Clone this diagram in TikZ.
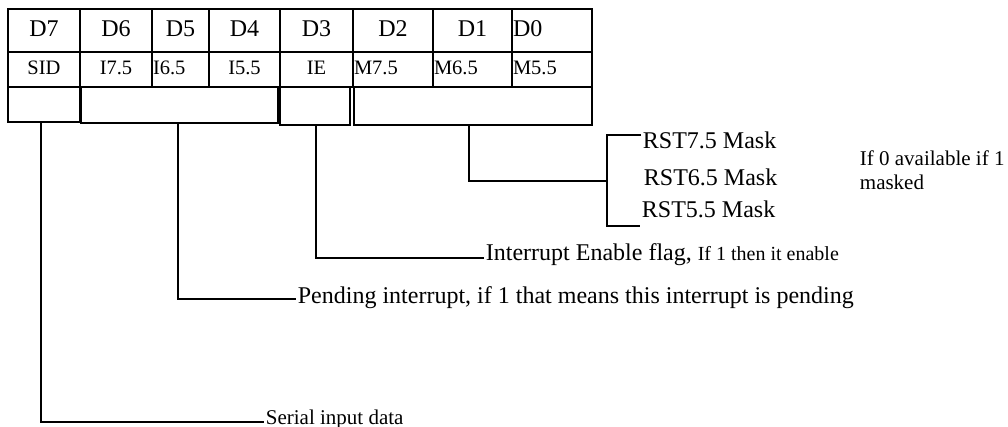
\documentclass[tikz,border=0pt]{standalone}
\usepackage{fontspec}
\setmainfont{Liberation Serif}
\usepackage{tikz}
\usetikzlibrary{positioning}

\newcommand{\txtsize}[1]{\fontsize{#1}{#1}\selectfont}

\begin{document}
\begin{tikzpicture}[
    x=1pt, y=-1pt,
    line width=1.8pt,
    toprow/.style={
        draw,
        inner sep=0pt,
        outer sep=0pt,
        minimum height=43pt,
        text depth=4pt,
        font=\txtsize{24}
    },
    midrow/.style={
        draw,
        inner sep=0pt,
        outer sep=0pt,
        minimum height=35pt,
        text depth=4pt,
        font=\txtsize{20.5}
    },
    fieldbox/.style={
        draw,
        inner sep=0pt,
        outer sep=0pt,
        anchor=north west
    },
    note/.style={
        inner sep=1pt,
        anchor=base west
    }
]
\useasboundingbox (0,0) rectangle (1008,427);

\node[toprow, minimum width=72pt, anchor=north west] (d7) at (8,9) {D7};
\node[toprow, minimum width=72pt, right=0pt of d7] (d6) {D6};
\node[toprow, minimum width=57pt, right=0pt of d6] (d5) {D5};
\node[toprow, minimum width=71pt, right=0pt of d5] (d4) {D4};
\node[toprow, minimum width=73pt, right=0pt of d4] (d3) {D3};
\node[toprow, minimum width=80pt, right=0pt of d3] (d2) {D2};
\node[toprow, minimum width=79pt, right=0pt of d2] (d1) {D1};
\node[toprow, text width=78pt, inner xsep=1pt, align=left, right=0pt of d1] (d0) {D0};

\node[midrow, minimum width=72pt, below=0pt of d7] (sid) {SID};
\node[midrow, minimum width=72pt, below=0pt of d6] (i75) {I7.5};
\node[midrow, text width=55pt, inner xsep=1pt, align=left, below=0pt of d5] (i65) {I6.5};
\node[midrow, minimum width=71pt, below=0pt of d4] (i55) {I5.5};
\node[midrow, minimum width=73pt, below=0pt of d3] (ie) {IE};
\node[midrow, text width=78pt, inner xsep=1pt, align=left, below=0pt of d2] (m75) {M7.5};
\node[midrow, text width=77pt, inner xsep=1pt, align=left, below=0pt of d1] (m65) {M6.5};
\node[midrow, text width=78pt, inner xsep=1pt, align=left, below=0pt of d0] (m55) {M5.5};

% field brackets under the register
\node[fieldbox, minimum width=72pt, minimum height=35pt] (sidbox) at (sid.south west) {};
\node[fieldbox, minimum width=197pt, minimum height=36pt] (pendbox) at (81,87) {};
\node[fieldbox, minimum width=70pt, minimum height=38pt] (iebox) at (280,87) {};
\node[fieldbox, minimum width=238pt, minimum height=38pt] (maskbox) at (354,87) {};

\node[note, font=\txtsize{24}] (rst75) at (641,149) {RST7.5 Mask};
\node[note, font=\txtsize{24}] (rst65) at (642,186) {RST6.5 Mask};
\node[note, font=\txtsize{24}] (rst55) at (640,218) {RST5.5 Mask};
\node[inner sep=0pt, anchor=north west, align=left, font=\fontsize{21}{24}\selectfont] (masknote) at (859,150) {If 0 available if 1\\masked};

\node[note, font=\txtsize{24}] (ieflag) at (484,261) {Interrupt Enable flag, {\txtsize{20}If 1 then it enable}};
\node[note, font=\txtsize{24}] (pending) at (296,303) {Pending interrupt, if 1 that means this interrupt is pending};
\node[note, font=\txtsize{21}] (serial) at (264,424) {Serial input data};

\coordinate (brtop) at (607,135);
\coordinate (brmid) at (607,181);
\coordinate (brbot) at (607,226);

\draw (rst75.west |- brtop) -- (brtop) -- (brbot) -- (rst55.west |- brbot);
\draw ([xshift=-4pt]maskbox.south) |- (brmid);
\draw ([xshift=1pt]iebox.south) |- ([yshift=3pt]ieflag.base west);
\draw ([xshift=-1.5pt]pendbox.south) |- ([yshift=4pt]pending.base west);
\draw ([xshift=-3pt]sidbox.south) |- ([yshift=2pt]serial.base west);

\end{tikzpicture}
\end{document}
